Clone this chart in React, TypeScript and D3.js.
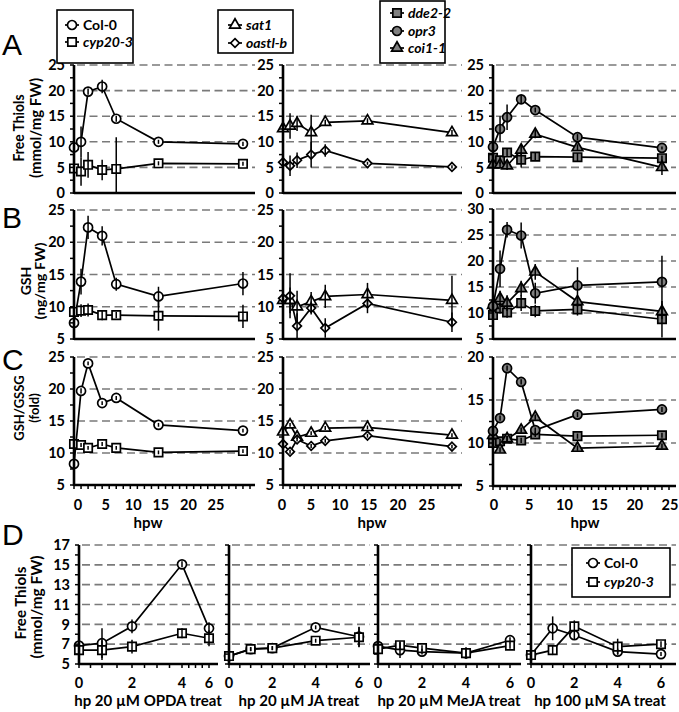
import React from "react";
import * as d3 from "d3";

// ---------- DATA ----------
const hpw = [0, 1, 2, 4, 6, 12, 24];
const hpTreat = [0, 1, 2, 4, 6];

const yTicksA = [0, 5, 10, 15, 20, 25];
const yTicksB = [5, 10, 15, 20, 25];
const yTicksBRight = [5, 10, 15, 20, 25, 30];
const yTicksC = [5, 10, 15, 20, 25];
const yTicksCRight = [5, 10, 15, 20];
const yTicksD = [5, 7, 9, 11, 13, 15, 17];
const hpwTickLabels = [0, 5, 10, 15, 20, 25];
const hpTickLabels = [0, 2, 4, 6];
const treatTitles = ["hp 20 µM OPDA treat", "hp 20 µM JA treat", "hp 20 µM MeJA treat", "hp 100 µM SA treat"];

// Row A: free thiols
const thiolCol0 = [8.9, 10.0, 19.8, 20.8, 14.5, 10.0, 9.6];
const thiolCol0Err = [1.0, 3.0, 0.6, 1.3, 0.6, 0.4, 0.4];
const thiolCyp = [4.8, 4.2, 5.5, 4.5, 4.7, 5.8, 5.7];
const thiolCypErr = [1.5, 2.8, 2.5, 2.0, 6.2, 0.4, 0.4];
const thiolSat1 = [12.6, 13.1, 13.6, 11.8, 13.8, 14.1, 11.8];
const thiolSat1Err = [1.5, 2.5, 1.5, 3.5, 0.5, 0.5, 0.5];
const thiolOastl = [6.0, 5.3, 6.4, 7.5, 8.3, 5.8, 5.1];
const thiolOastlErr = [0.7, 2.0, 1.5, 2.5, 1.2, 0.3, 0.3];
const thiolDde2 = [6.9, 6.4, 7.9, 6.5, 7.1, 7.0, 6.8];
const thiolDde2Err = [0.7, 0.7, 0.7, 1.5, 0.8, 0.8, 0.5];
const thiolOpr3 = [9.0, 12.5, 14.8, 18.3, 16.2, 10.9, 8.8];
const thiolOpr3Err = [0.6, 2.5, 2.5, 0.8, 0.5, 0.6, 0.3];
const thiolCoi1 = [5.5, 5.5, 5.3, 8.4, 11.5, 8.9, 5.0];
const thiolCoi1Err = [0.5, 0.5, 0.8, 1.0, 0.8, 0.6, 1.5];

// Row B: GSH
const gshCol0 = [7.5, 13.9, 22.3, 21.0, 13.5, 11.6, 13.6];
const gshCol0Err = [0.7, 2.0, 1.8, 1.5, 1.0, 1.5, 1.8];
const gshCyp = [9.2, 9.4, 9.5, 8.7, 8.7, 8.6, 8.5];
const gshCypErr = [1.0, 1.0, 1.0, 0.8, 0.5, 2.3, 1.8];
const gshSat1 = [11.0, 11.0, 10.0, 10.8, 11.6, 11.9, 11.0];
const gshSat1Err = [1.0, 2.0, 2.5, 1.5, 1.8, 1.8, 3.8];
const gshOastl = [11.3, 11.7, 7.0, 9.8, 6.7, 10.5, 7.6];
const gshOastlErr = [1.5, 3.5, 2.0, 1.0, 1.5, 1.5, 1.5];
const gshDde2 = [9.6, 10.9, 10.1, 11.9, 10.4, 10.7, 8.8];
const gshDde2Err = [1.0, 1.0, 1.0, 1.5, 1.2, 1.2, 3.5];
const gshOpr3 = [11.3, 18.5, 26.0, 24.9, 13.8, 15.3, 16.0];
const gshOpr3Err = [1.0, 3.5, 1.5, 2.5, 2.0, 3.5, 5.0];
const gshCoi1 = [11.5, 12.8, 11.9, 14.7, 17.9, 12.2, 10.3];
const gshCoi1Err = [1.5, 1.5, 1.5, 1.5, 1.5, 1.0, 1.5];

// Row C: GSH/GSSG
const ratioCol0 = [8.3, 19.7, 24.0, 17.8, 18.6, 14.4, 13.5];
const ratioCol0Err = [0.5, 0.4, 0.3, 0.3, 0.3, 0.3, 0.3];
const ratioCyp = [11.4, 11.25, 10.8, 11.4, 10.8, 10.1, 10.3];
const ratioCypErr = [0.4, 0.3, 0.3, 0.3, 0.3, 0.3, 0.3];
const ratioSat1 = [13.3, 14.4, 12.5, 13.1, 13.9, 14.0, 12.8];
const ratioSat1Err = [0.3, 0.3, 0.3, 0.3, 0.3, 0.3, 0.3];
const ratioOastl = [11.4, 10.2, 12.1, 11.1, 11.9, 12.7, 11.0];
const ratioOastlErr = [0.3, 0.3, 0.3, 0.3, 0.3, 0.3, 0.3];
const ratioDde2 = [10.0, 10.2, 10.5, 10.3, 11.0, 10.8, 10.9];
const ratioDde2Err = [0.3, 0.3, 0.3, 0.3, 0.3, 0.3, 0.3];
const ratioOpr3 = [11.4, 12.9, 18.7, 17.1, 11.5, 13.3, 13.9];
const ratioOpr3Err = [0.3, 0.3, 0.3, 0.3, 0.3, 0.3, 0.3];
const ratioCoi1 = [10.9, 9.2, 10.5, 11.5, 13.0, 9.4, 9.65];
const ratioCoi1Err = [0.3, 0.3, 0.3, 0.3, 0.3, 0.3, 0.3];

// Row D: free thiols after hormone treatment
const opdaCol0 = [6.85, 7.1, 8.8, 15.05, 8.6];
const opdaCol0Err = [0.3, 1.5, 0.7, 0.3, 0.6];
const opdaCyp = [6.4, 6.4, 6.75, 8.1, 7.6];
const opdaCypErr = [0.5, 1.0, 0.7, 0.5, 0.8];
const jaCol0 = [5.8, 6.5, 6.6, 8.7, 7.75];
const jaCol0Err = [0.3, 0.2, 0.2, 0.2, 1.0];
const jaCyp = [5.8, 6.5, 6.6, 7.35, 7.7];
const jaCypErr = [0.3, 0.2, 0.2, 0.2, 1.0];
const mejaCol0 = [6.8, 6.4, 6.25, 6.1, 7.4];
const mejaCol0Err = [0.3, 0.8, 0.3, 0.5, 0.3];
const mejaCyp = [6.5, 6.9, 6.6, 6.1, 6.85];
const mejaCypErr = [0.3, 0.4, 0.3, 0.6, 0.3];
const saCol0 = [5.9, 8.6, 7.9, 6.25, 6.0];
const saCol0Err = [0.2, 1.2, 0.4, 0.3, 0.2];
const saCyp = [5.9, 6.4, 8.8, 6.75, 7.0];
const saCypErr = [0.3, 0.5, 0.6, 0.8, 0.3];

// ---------- STYLE ----------
const FONT = "Lato, 'Open Sans', sans-serif";
const GRAY = "#808080";
const GRID = "#7a7a7a";

type Shape = "circle" | "square" | "triangle" | "diamond";
type Series = { x: number[]; y: number[]; e: number[]; shape: Shape; fill: string };

const symbolOf: Record<Shape, d3.SymbolType> = {
  circle: d3.symbolCircle,
  square: d3.symbolSquare,
  triangle: d3.symbolTriangle,
  diamond: d3.symbolDiamond2,
};
const sizeOf: Record<Shape, number> = { circle: 64, square: 70, triangle: 50, diamond: 48 };

function Marker({ shape, x, y, fill }: { shape: Shape; x: number; y: number; fill: string }) {
  const d = d3.symbol(symbolOf[shape], sizeOf[shape])() as string;
  return <path d={d} transform={`translate(${x},${y})`} fill={fill} stroke="#000" strokeWidth={1.7} />;
}

const s = (x: number[], y: number[], e: number[], shape: Shape, fill: string): Series => ({ x, y, e, shape, fill });

function SeriesMarks({ series, xs, ys }: { series: Series[]; xs: (v: number) => number; ys: d3.ScaleLinear<number, number> }) {
  const line = d3.line<number>();
  return (
    <g>
      {series.map((sr, i) => (
        <path
          key={"l" + i}
          d={line(sr.x.map((xv, j) => [xs(xv), ys(sr.y[j])]) as any) as string}
          fill="none"
          stroke="#000"
          strokeWidth={1.7}
        />
      ))}
      {series.map((sr, i) =>
        sr.x.map((xv, j) => <Marker key={`m${i}-${j}`} shape={sr.shape} x={xs(xv)} y={ys(sr.y[j])} fill={sr.fill} />)
      )}
      {series.map((sr, i) =>
        sr.x.map((xv, j) => (
          <line
            key={`e${i}-${j}`}
            x1={xs(xv)}
            x2={xs(xv)}
            y1={ys(Math.max(ys.domain()[0], sr.y[j] - sr.e[j]))}
            y2={ys(sr.y[j] + sr.e[j])}
            stroke="#000"
            strokeWidth={1.5}
          />
        ))
      )}
    </g>
  );
}

function YAxis({ x0, ys, ticks, minor, labels }: { x0: number; ys: d3.ScaleLinear<number, number>; ticks: number[]; minor: number; labels: boolean }) {
  const [d0, d1] = ys.domain();
  const minors = d3.range(d0, d1 + 1e-9, minor);
  return (
    <g>
      <line x1={x0} x2={x0} y1={ys(d0) + 1} y2={ys(d1)} stroke="#000" strokeWidth={2.6} />
      {minors.map((v) => (
        <line key={v} x1={x0 - 4} x2={x0} y1={ys(v)} y2={ys(v)} stroke="#000" strokeWidth={1.5} />
      ))}
      {labels &&
        ticks.map((v) => (
          <text key={v} x={x0 - 9} y={ys(v)} dy="0.36em" textAnchor="end" fontFamily={FONT} fontWeight={700} fontSize={14.5}>
            {v}
          </text>
        ))}
    </g>
  );
}

function Grid({ x0, x1, ys, ticks }: { x0: number; x1: number; ys: d3.ScaleLinear<number, number>; ticks: number[] }) {
  return (
    <g>
      {ticks
        .filter((v) => v !== ys.domain()[0])
        .map((v) => (
          <line key={v} x1={x0 + 3} x2={x1} y1={ys(v)} y2={ys(v)} stroke={GRID} strokeWidth={1.6} strokeDasharray="8,4.5" />
        ))}
    </g>
  );
}

function Legend({ x, y, w, h, items, mx, tx }: { x: number; y: number; w: number; h: number; items: { label: string; italic: boolean; shape: Shape; fill: string; y: number }[]; mx: number; tx: number }) {
  return (
    <g>
      <rect x={x} y={y} width={w} height={h} fill="#fff" stroke="#000" strokeWidth={1.6} />
      {items.map((it) => (
        <g key={it.label}>
          <line x1={mx - 7} x2={mx + 7} y1={it.y} y2={it.y} stroke="#000" strokeWidth={1.7} />
          <Marker shape={it.shape} x={mx} y={it.y} fill={it.fill} />
          <text x={tx} y={it.y} dy="0.36em" fontFamily={FONT} fontWeight={700} fontSize={14} fontStyle={it.italic ? "italic" : "normal"}>
            {it.label}
          </text>
        </g>
      ))}
    </g>
  );
}

export default function App() {
  // column geometry for rows A–C
  const cols = [
    { x0: 74, gridEnd: 255, labelRange: [78, 216], hpwX: 148 },
    { x0: 283, gridEnd: 462, labelRange: [282, 427], hpwX: 372 },
    { x0: 493, gridEnd: 676, labelRange: [494, 670], hpwX: 585 },
  ];
  const xScales = cols.map((c) => d3.scaleLinear().domain([0, 25]).range([c.x0, c.x0 + 176]));

  const rows = [
    {
      letter: "A",
      letterY: 55,
      panels: [
        { ys: d3.scaleLinear().domain([0, 25]).range([193, 65]), ticks: yTicksA, series: [s(hpw, thiolCol0, thiolCol0Err, "circle", "#fff"), s(hpw, thiolCyp, thiolCypErr, "square", "#fff")] },
        { ys: d3.scaleLinear().domain([0, 25]).range([193, 65]), ticks: yTicksA, series: [s(hpw, thiolSat1, thiolSat1Err, "triangle", "#fff"), s(hpw, thiolOastl, thiolOastlErr, "diamond", "#fff")] },
        { ys: d3.scaleLinear().domain([0, 25]).range([193, 65]), ticks: yTicksA, series: [s(hpw, thiolDde2, thiolDde2Err, "square", GRAY), s(hpw, thiolCoi1, thiolCoi1Err, "triangle", GRAY), s(hpw, thiolOpr3, thiolOpr3Err, "circle", GRAY)] },
      ],
      title: ["Free Thiols", "(mmol/mg FW)"],
      titleX: [19, 36],
      titleY: 128,
      titleSize: 14.5,
      titleLen: [67, 100] as (number | undefined)[],
      xLabels: false,
    },
    {
      letter: "B",
      letterY: 228,
      panels: [
        { ys: d3.scaleLinear().domain([5, 25]).range([339, 210]), ticks: yTicksB, series: [s(hpw, gshCol0, gshCol0Err, "circle", "#fff"), s(hpw, gshCyp, gshCypErr, "square", "#fff")] },
        { ys: d3.scaleLinear().domain([5, 25]).range([339, 210]), ticks: yTicksB, series: [s(hpw, gshSat1, gshSat1Err, "triangle", "#fff"), s(hpw, gshOastl, gshOastlErr, "diamond", "#fff")] },
        { ys: d3.scaleLinear().domain([5, 30]).range([339, 209]), ticks: yTicksBRight, series: [s(hpw, gshDde2, gshDde2Err, "square", GRAY), s(hpw, gshCoi1, gshCoi1Err, "triangle", GRAY), s(hpw, gshOpr3, gshOpr3Err, "circle", GRAY)] },
      ],
      title: ["GSH", "(ng/mg FW)"],
      titleX: [26, 40],
      titleY: 281,
      titleSize: 14,
      titleLen: [undefined, 77] as (number | undefined)[],
      xLabels: false,
    },
    {
      letter: "C",
      letterY: 370,
      panels: [
        { ys: d3.scaleLinear().domain([5, 25]).range([485, 357]), ticks: yTicksC, series: [s(hpw, ratioCol0, ratioCol0Err, "circle", "#fff"), s(hpw, ratioCyp, ratioCypErr, "square", "#fff")] },
        { ys: d3.scaleLinear().domain([5, 25]).range([485, 357]), ticks: yTicksC, series: [s(hpw, ratioSat1, ratioSat1Err, "triangle", "#fff"), s(hpw, ratioOastl, ratioOastlErr, "diamond", "#fff")] },
        { ys: d3.scaleLinear().domain([5, 20]).range([486, 357]), ticks: yTicksCRight, series: [s(hpw, ratioDde2, ratioDde2Err, "square", GRAY), s(hpw, ratioCoi1, ratioCoi1Err, "triangle", GRAY), s(hpw, ratioOpr3, ratioOpr3Err, "circle", GRAY)] },
      ],
      title: ["GSH/GSSG", "(fold)"],
      titleX: [19, 34],
      titleY: 408,
      titleSize: 13,
      titleLen: [undefined, undefined] as (number | undefined)[],
      xLabels: true,
    },
  ];

  // Row D geometry
  const dPanels = [
    { xs: d3.scaleLinear().domain([0, 1, 2, 4, 6]).range([79, 102, 132, 182, 209]), gridEnd: 218, titleX: 148, series: [s(hpTreat, opdaCol0, opdaCol0Err, "circle", "#fff"), s(hpTreat, opdaCyp, opdaCypErr, "square", "#fff")] },
    { xs: d3.scaleLinear().domain([0, 6]).range([229, 359]), gridEnd: 370, titleX: 299, series: [s(hpTreat, jaCol0, jaCol0Err, "circle", "#fff"), s(hpTreat, jaCyp, jaCypErr, "square", "#fff")] },
    { xs: d3.scaleLinear().domain([0, 6]).range([378, 510]), gridEnd: 521, titleX: 449, series: [s(hpTreat, mejaCol0, mejaCol0Err, "circle", "#fff"), s(hpTreat, mejaCyp, mejaCypErr, "square", "#fff")] },
    { xs: d3.scaleLinear().domain([0, 6]).range([531, 661]), gridEnd: 676, titleX: 600, series: [s(hpTreat, saCol0, saCol0Err, "circle", "#fff"), s(hpTreat, saCyp, saCypErr, "square", "#fff")] },
  ];
  const dY = d3.scaleLinear().domain([5, 17]).range([664, 545]);

  return (
    <svg width={679} height={712} style={{ position: "absolute", left: 0, top: 0, background: "#fff" }}>
      <rect width={679} height={712} fill="#fff" />
      {rows.map((row) => (
        <g key={row.letter}>
          <text x={2} y={row.letterY} fontFamily="'Liberation Sans', Arial, sans-serif" fontSize={30}>
            {row.letter}
          </text>
          {row.title.map((t, i) => (
            <text
              key={t}
              transform={`translate(${row.titleX[i]},${row.titleY}) rotate(-90)`}
              textAnchor="middle"
              dy="0.36em"
              fontFamily={FONT}
              fontWeight={700}
              fontSize={row.titleSize}
              textLength={row.titleLen[i]}
              lengthAdjust={row.titleLen[i] ? "spacingAndGlyphs" : undefined}
            >
              {t}
            </text>
          ))}
          {row.panels.map((p, ci) => {
            const c = cols[ci];
            const xs = xScales[ci];
            const bottom = p.ys.range()[0];
            const labelScale = d3.scaleLinear().domain([0, 25]).range(c.labelRange);
            return (
              <g key={ci}>
                <Grid x0={c.x0} x1={c.gridEnd} ys={p.ys} ticks={p.ticks} />
                <line x1={c.x0} x2={c.gridEnd} y1={bottom} y2={bottom} stroke="#000" strokeWidth={2.6} />
                {row.xLabels &&
                  d3.range(0, 26, 1).map((v) => (
                    <line key={"xt" + v} x1={xs(v)} x2={xs(v)} y1={bottom} y2={bottom + 4} stroke="#000" strokeWidth={1.5} />
                  ))}
                <SeriesMarks series={p.series} xs={xs} ys={p.ys} />
                <YAxis x0={c.x0} ys={p.ys} ticks={p.ticks} minor={2.5} labels={true} />
                {row.xLabels && (
                  <g>
                    {hpwTickLabels.map((v) => (
                      <text key={v} x={labelScale(v)} y={510} textAnchor="middle" fontFamily={FONT} fontWeight={700} fontSize={14.5}>
                        {v}
                      </text>
                    ))}
                    <text x={c.hpwX} y={528} textAnchor="middle" fontFamily={FONT} fontWeight={700} fontSize={15}>
                      hpw
                    </text>
                  </g>
                )}
              </g>
            );
          })}
        </g>
      ))}

      {/* Row D */}
      <g>
        <text x={2} y={545} fontFamily="'Liberation Sans', Arial, sans-serif" fontSize={30}>
          D
        </text>
        {["Free Thiols", "(mmol/mg FW)"].map((t, i) => (
          <text
            key={t}
            transform={`translate(${[21, 37][i]},${[603, 607][i]}) rotate(-90)`}
            textAnchor="middle"
            dy="0.36em"
            fontFamily={FONT}
            fontWeight={700}
            fontSize={15}
            textLength={[73, 103][i]}
            lengthAdjust="spacingAndGlyphs"
          >
            {t}
          </text>
        ))}
        {dPanels.map((p, i) => {
          const x0 = p.xs.range()[0];
          return (
            <g key={i}>
              <Grid x0={x0} x1={p.gridEnd} ys={dY} ticks={yTicksD} />
              <line x1={x0} x2={p.gridEnd} y1={664} y2={664} stroke="#000" strokeWidth={2.6} />
              {d3.range(0, 6.01, 0.5).map((v) => (
                <line key={"xt" + v} x1={p.xs(v)} x2={p.xs(v)} y1={664} y2={668} stroke="#000" strokeWidth={1.5} />
              ))}
              <SeriesMarks series={p.series} xs={p.xs} ys={dY} />
              <YAxis x0={x0} ys={dY} ticks={yTicksD} minor={1} labels={i === 0} />
              {hpTickLabels.map((v) => (
                <text key={v} x={p.xs(v)} y={688} textAnchor="middle" fontFamily={FONT} fontWeight={700} fontSize={14.5}>
                  {v}
                </text>
              ))}
              <text x={p.titleX} y={706} textAnchor="middle" fontFamily={FONT} fontWeight={700} fontSize={15}>
                {treatTitles[i]}
              </text>
            </g>
          );
        })}
      </g>

      {/* Legends */}
      <Legend
        x={57}
        y={10}
        w={76}
        h={53}
        mx={72}
        tx={83}
        items={[
          { label: "Col-0", italic: false, shape: "circle", fill: "#fff", y: 25 },
          { label: "cyp20-3", italic: true, shape: "square", fill: "#fff", y: 42 },
        ]}
      />
      <Legend
        x={218}
        y={10}
        w={75}
        h={43}
        mx={235}
        tx={246}
        items={[
          { label: "sat1", italic: true, shape: "triangle", fill: "#fff", y: 25 },
          { label: "oastl-b", italic: true, shape: "diamond", fill: "#fff", y: 43 },
        ]}
      />
      <Legend
        x={380}
        y={1}
        w={65}
        h={62}
        mx={397}
        tx={408}
        items={[
          { label: "dde2-2", italic: true, shape: "square", fill: GRAY, y: 13 },
          { label: "opr3", italic: true, shape: "circle", fill: GRAY, y: 31 },
          { label: "coi1-1", italic: true, shape: "triangle", fill: GRAY, y: 48 },
        ]}
      />
      <Legend
        x={572}
        y={548}
        w={98}
        h={49}
        mx={593}
        tx={604}
        items={[
          { label: "Col-0", italic: false, shape: "circle", fill: "#fff", y: 563 },
          { label: "cyp20-3", italic: true, shape: "square", fill: "#fff", y: 582 },
        ]}
      />
    </svg>
  );
}
